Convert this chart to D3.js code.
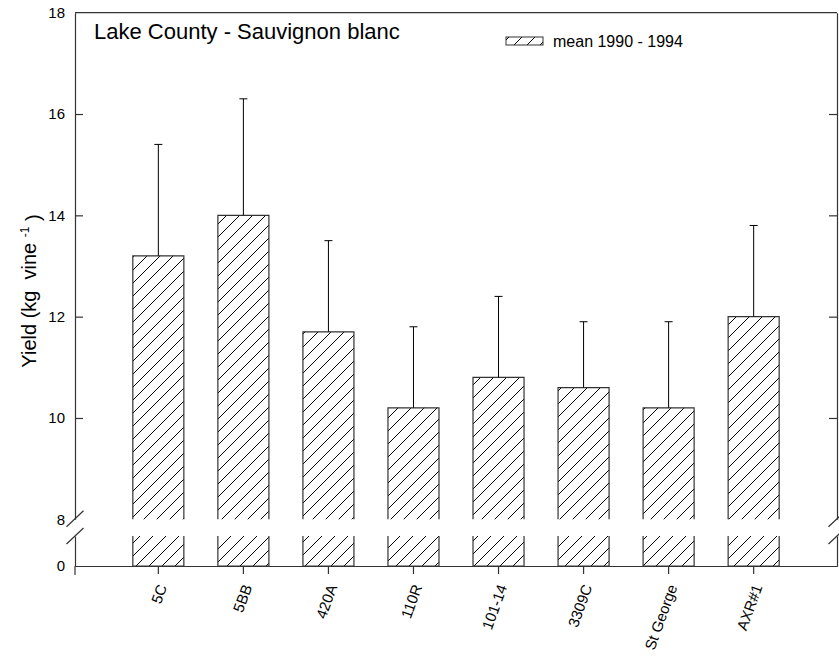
<!DOCTYPE html>
<html>
<head>
<meta charset="utf-8">
<script src="https://cdn.jsdelivr.net/npm/d3@7"></script>
<style>
  html, body { margin: 0; padding: 0; background: #fff; }
  svg { display: block; font-family: Arial, "Liberation Sans", sans-serif; }
</style>
</head>
<body>
<svg id="chart" width="839" height="660"></svg>
<script>
// Rootstock yields, Lake County Sauvignon blanc (mean 1990 - 1994)
const rootstocks = ["5C", "5BB", "420A", "110R", "101-14", "3309C", "St George", "AXR#1"];
const meanYield  = [13.2, 14.0, 11.7, 10.2, 10.8, 10.6, 10.2, 12.0];
const errUpper   = [2.2, 2.3, 1.8, 1.6, 1.6, 1.3, 1.7, 1.8];
const upperTicks = [8, 10, 12, 14, 16, 18];
const lowerTicks = [0];
const titleText  = "Lake County - Sauvignon blanc";
const legendText = "mean 1990 - 1994";

const svg = d3.select("#chart");
const plotLeft = 75, plotRight = 837, plotTop = 12.7;
const breakTop = 519.3, breakBot = 536, baseY = 566;

const x = d3.scaleBand().domain(rootstocks).range([plotLeft, plotRight])
  .paddingInner(0.4).paddingOuter(0.68);
const yUp = d3.scaleLinear().domain([8, 18]).range([breakTop, plotTop]);
const yLow = d3.scaleLinear().domain([0, 8]).range([baseY, breakBot]);

// diagonal hatch
const defs = svg.append("defs");
const pat = defs.append("pattern").attr("id", "hatch")
  .attr("patternUnits", "userSpaceOnUse").attr("width", 13).attr("height", 13);
pat.append("path")
  .attr("d", "M-1,1 l2,-2 M0,13 l13,-13 M12,14 l2,-2")
  .attr("stroke", "#000").attr("stroke-width", 1).attr("fill", "none");

const data = rootstocks.map((k, i) => ({ k, v: meanYield[i], e: errUpper[i] }));

// upper bar pieces
const bars = svg.append("g");
bars.selectAll("path.up").data(data).join("path").attr("class", "up")
  .attr("d", d => {
    const x0 = x(d.k), x1 = x0 + x.bandwidth(), yt = yUp(d.v);
    return `M${x0},${breakTop}V${yt}H${x1}V${breakTop}`;
  })
  .attr("fill", "url(#hatch)").attr("stroke", "#333").attr("stroke-width", 1.2);
// lower bar pieces
bars.selectAll("path.low").data(data).join("path").attr("class", "low")
  .attr("d", d => {
    const x0 = x(d.k), x1 = x0 + x.bandwidth();
    return `M${x0},${breakBot}V${yLow(0)}H${x1}V${breakBot}`;
  })
  .attr("fill", "url(#hatch)").attr("stroke", "#333").attr("stroke-width", 1.2);

// error bars (upper only)
const eb = svg.append("g").attr("stroke", "#000").attr("stroke-width", 1);
eb.selectAll("line.v").data(data).join("line").attr("class", "v")
  .attr("x1", d => x(d.k) + x.bandwidth() / 2).attr("x2", d => x(d.k) + x.bandwidth() / 2)
  .attr("y1", d => yUp(d.v)).attr("y2", d => yUp(d.v + d.e));
eb.selectAll("line.c").data(data).join("line").attr("class", "c")
  .attr("x1", d => x(d.k) + x.bandwidth() / 2 - 4).attr("x2", d => x(d.k) + x.bandwidth() / 2 + 4)
  .attr("y1", d => yUp(d.v + d.e)).attr("y2", d => yUp(d.v + d.e));

function styleAxis(g) {
  g.selectAll("path.domain").attr("stroke", "#333").attr("stroke-width", 1.2);
  g.selectAll(".tick line").attr("stroke", "#333").attr("stroke-width", 1.2);
  g.selectAll("text").attr("fill", "#000").style("font-size", "15px")
    .style("font-family", "Arial, 'Liberation Sans', sans-serif");
}

// left axis, upper and lower segments
svg.append("g").attr("transform", `translate(${plotLeft},0)`)
  .call(d3.axisLeft(yUp).tickValues(upperTicks).tickSizeInner(-8).tickSizeOuter(0).tickPadding(10))
  .call(styleAxis)
  .call(g => g.selectAll(".tick").filter(d => d === 8 || d === 18).select("line").remove());
svg.append("g").attr("transform", `translate(${plotLeft},0)`)
  .call(d3.axisLeft(yLow).tickValues(lowerTicks).tickSizeInner(0).tickSizeOuter(0).tickPadding(10))
  .call(styleAxis);
svg.append("line").attr("x1", plotLeft).attr("x2", plotLeft).attr("y1", baseY).attr("y2", baseY + 9)
  .attr("stroke", "#333").attr("stroke-width", 1.2);

// right axis
svg.append("g").attr("transform", `translate(${plotRight},0)`)
  .call(d3.axisRight(yUp).tickValues([10, 12, 14, 16]).tickSizeInner(-8).tickSizeOuter(0).tickFormat(""))
  .call(styleAxis);
svg.append("g").attr("transform", `translate(${plotRight},0)`)
  .call(d3.axisRight(yLow).tickValues([]).tickSizeOuter(0))
  .call(styleAxis);

// top frame
svg.append("line").attr("x1", plotLeft).attr("x2", plotRight).attr("y1", plotTop).attr("y2", plotTop)
  .attr("stroke", "#333").attr("stroke-width", 1.2);

// axis break marks
const brk = svg.append("g").attr("stroke", "#333").attr("stroke-width", 1.2);
[plotLeft, plotRight].forEach(ax => {
  [breakTop - 0.6, breakBot].forEach(cy => {
    brk.append("line").attr("x1", ax - 8.5).attr("y1", cy + 8).attr("x2", ax + 8.5).attr("y2", cy - 8);
  });
});

// x axis
svg.append("g").attr("transform", `translate(0,${baseY})`)
  .call(d3.axisBottom(x).tickSizeInner(8).tickSizeOuter(0))
  .call(styleAxis)
  .call(g => g.selectAll(".tick text")
    .attr("y", 0).attr("dy", "0.35em")
    .attr("transform", "translate(4,19) rotate(-70)")
    .style("text-anchor", "end"));

// y title
const yTitle = svg.append("text")
  .attr("transform", "translate(36,291) rotate(-90)")
  .attr("text-anchor", "middle")
  .style("font-size", "20px").style("white-space", "pre");
yTitle.append("tspan").text("Yield (kg  vine ");
yTitle.append("tspan").attr("dy", "-0.55em").style("font-size", "12px").text("-1");
yTitle.append("tspan").attr("dy", "0.55em").text(" )");

// title
svg.append("text").attr("x", 94).attr("y", 39).style("font-size", "22px").text(titleText);

// legend
svg.append("rect").attr("x", 506).attr("y", 37).attr("width", 37).attr("height", 8)
  .attr("fill", "url(#hatch)").attr("stroke", "#333").attr("stroke-width", 1);
svg.append("text").attr("x", 553).attr("y", 46.5).style("font-size", "16px").text(legendText);
</script>
</body>
</html>
